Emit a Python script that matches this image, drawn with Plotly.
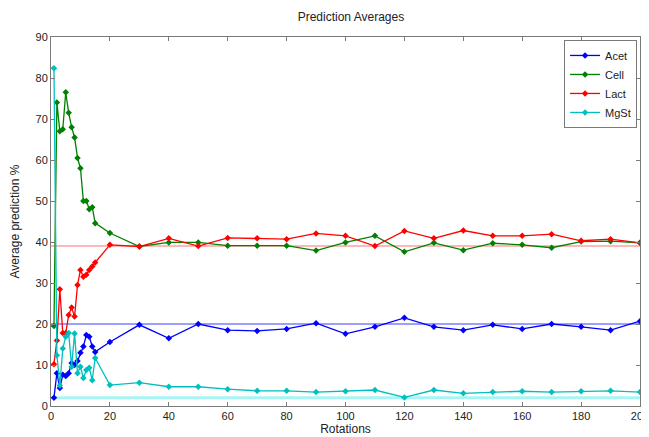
import plotly.graph_objects as go

rotations = list(range(1, 16)) + list(range(20, 201, 10))

acet = [2, 8, 4.4, 7.6, 7.3, 8, 10.5, 10, 11, 13, 14.5, 17.3, 16.9, 14.5, 13.2,
        15.6, 19.8, 16.5, 20, 18.5, 18.3, 18.8, 20.2, 17.6, 19.3, 21.5, 19.3, 18.5,
        19.8, 18.8, 20, 19.3, 18.5, 20.7]
cell = [19.5, 74, 67, 67.5, 76.5, 71.5, 68, 65.5, 60.5, 58, 50, 50, 48, 48.5, 44.6,
        42.2, 38.9, 39.9, 39.9, 39.1, 39.1, 39.1, 37.9, 39.9, 41.5, 37.6, 39.8, 38,
        39.7, 39.3, 38.6, 40.1, 40.2, 39.8]
lact = [10.2, 16, 28.5, 17.8, 17.8, 22.2, 24, 21.8, 29.5, 33.2, 31.5, 32, 33.2, 34, 35,
        39.3, 38.9, 40.9, 39, 41, 40.9, 40.7, 42.1, 41.5, 39, 42.7, 40.9, 42.8,
        41.5, 41.5, 41.9, 40.3, 40.7, 39.8]
mgst = [82.4, 12.4, 5, 14, 16.9, 17.8, 9.6, 17.7, 8, 9.6, 6.8, 8.8, 9.3, 6.3, 11.7,
        5.1, 5.7, 4.7, 4.7, 4.1, 3.7, 3.7, 3.4, 3.6, 3.9, 2.1, 3.9, 3.1,
        3.4, 3.6, 3.4, 3.6, 3.7, 3.4]

ref_levels = {"Acet": 20, "Cell": 39, "Lact": 39, "MgSt": 2}
x_ref = [0, 200]

names = ["Acet", "Cell", "Lact", "MgSt"]
series = [acet, cell, lact, mgst]
colors = ["#0000ff", "#008000", "#ff0000", "#00bfbf"]
ref_colors = {"Acet": "#3f3fff", "Cell": "#b0d8b0", "Lact": "#ffb8b8", "MgSt": "#a8f4f4"}
ref_widths = {"Acet": 1.2, "Cell": 2, "Lact": 2, "MgSt": 3}

fig = go.Figure()
for n in ["MgSt", "Cell", "Lact", "Acet"]:
    fig.add_trace(go.Scatter(x=x_ref, y=[ref_levels[n]] * 2, mode="lines",
                             line=dict(color=ref_colors[n], width=ref_widths[n]),
                             showlegend=False, hoverinfo="skip"))
for n, s, c in zip(names, series, colors):
    fig.add_trace(go.Scatter(x=rotations, y=s, mode="lines+markers", name=n,
                             line=dict(color=c, width=1.3),
                             marker=dict(symbol="diamond", size=5, color=c)))

axis_common = dict(showline=True, linecolor="#7a7a7a", linewidth=1, mirror="allticks",
                   ticks="inside", ticklen=4, tickcolor="#7a7a7a", showgrid=False,
                   zeroline=False, automargin=False, ticklabeloverflow="allow",
                   tickfont=dict(family="Liberation Sans", size=11, color="#222"))
fig.update_xaxes(range=[0, 200], tickvals=list(range(0, 201, 20)),
                 title=dict(text="Rotations", font=dict(family="Liberation Sans", size=12, color="#222"), standoff=0),
                 **axis_common)
fig.update_yaxes(range=[0, 90], tickvals=list(range(0, 91, 10)),
                 title=dict(text="Average prediction %", font=dict(family="Liberation Sans", size=12, color="#222"), standoff=20),
                 **axis_common)

# page body adds an 8px offset; the figure is sized to fill the rest of the window
fig.update_layout(
    width=641, height=429,
    margin=dict(l=43, r=9, t=29, b=31),
    plot_bgcolor="white", paper_bgcolor="white",
    title=dict(text="Prediction Averages", x=0.535, xanchor="center", y=0.979, yanchor="middle",
               font=dict(family="Liberation Sans", size=12, color="#222")),
    legend=dict(x=0.995, xanchor="right", y=0.992, yanchor="top", bgcolor="white",
                bordercolor="#7a7a7a", borderwidth=1,
                font=dict(family="Liberation Sans", size=11, color="#222"),
                itemwidth=30, tracegroupgap=0),
    showlegend=True,
)

fig.write_html("out.html")
